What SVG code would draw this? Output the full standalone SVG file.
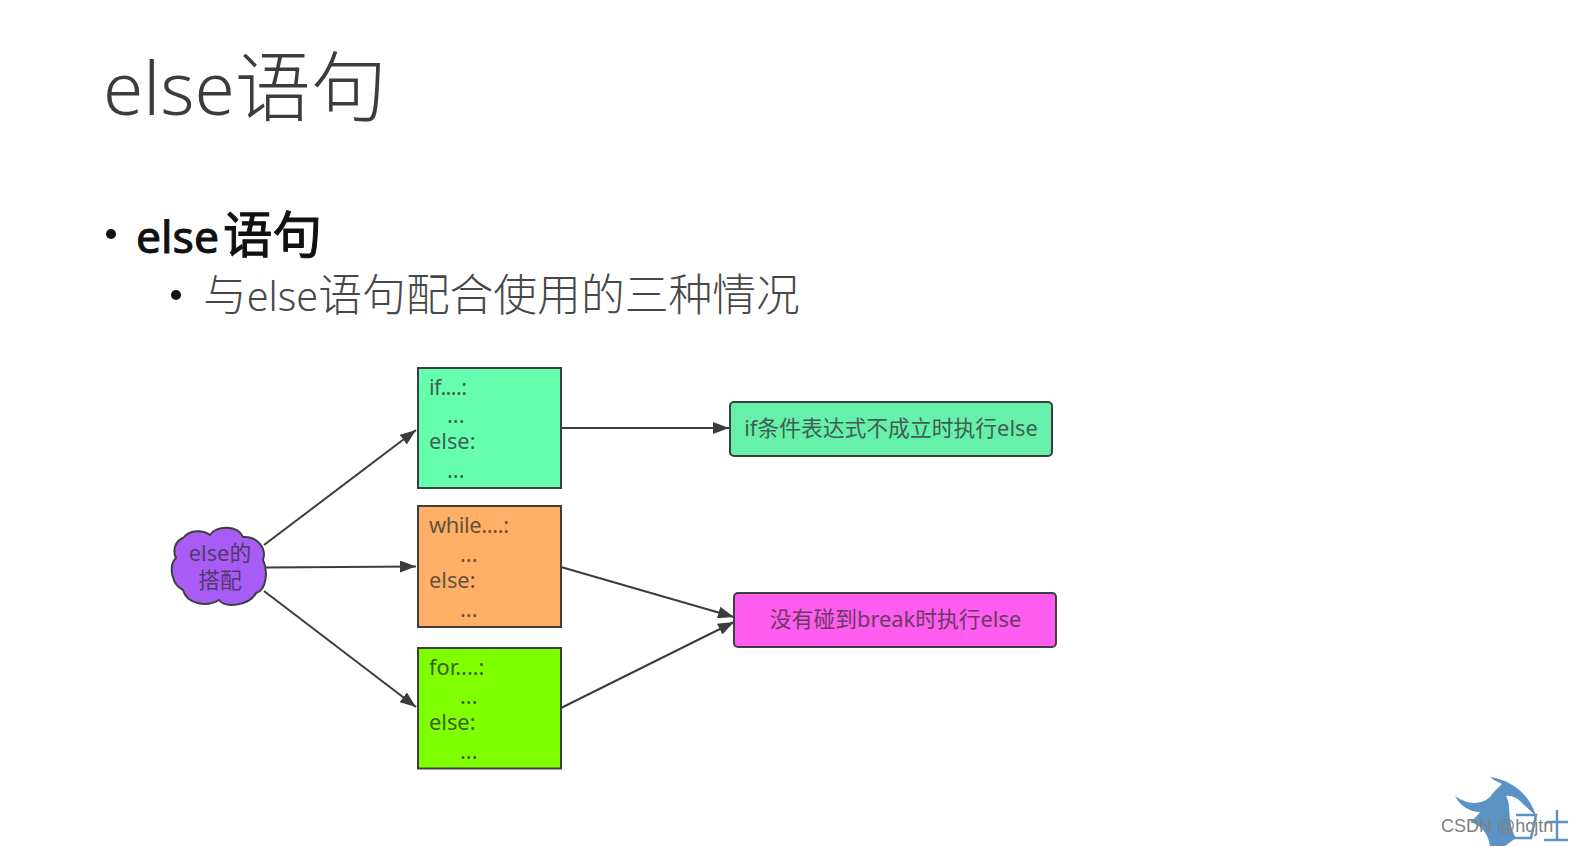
<svg xmlns="http://www.w3.org/2000/svg" width="1570" height="847" viewBox="0 0 1570 847">
<style>
.cjk{font-family:"Noto Sans","Noto Sans CJK SC",sans-serif}
.n{fill:#3f5f50;font-size:21.800px;font-family:"Noto Sans","Noto Sans CJK SC",sans-serif}
.m{fill:#5f5340}
.g{fill:#3f6020}
.p{fill:#4f3a6b}
.q{fill:#6a3a66}
.b{stroke:#3c3f3f;stroke-width:2}
.c{stroke:#3c3c3c;stroke-width:2;fill:none;marker-end:url(#a)}
</style>
<defs><marker id="a" markerUnits="userSpaceOnUse" markerWidth="18" markerHeight="12" refX="16" refY="6" orient="auto"><path d="M0 0L16 6L0 12Z" fill="#3c3c3c"/></marker></defs>
<rect width="1570" height="847" fill="#fff"/>
<text class="cjk" x="103" y="115" font-size="73" fill="#3c3c3c" font-weight="300">else<tspan font-size="76">语句</tspan></text>
<circle cx="111" cy="234" r="5" fill="#111"/>
<text class="cjk" x="136" y="253" font-size="44.500" fill="#111" stroke="#111" stroke-width="1">else<tspan font-size="49.500" dx="4">语句</tspan></text>
<circle cx="176" cy="295" r="5" fill="#111"/>
<text class="cjk" x="203" y="311" font-size="39.500" fill="#484848" font-weight="300"><tspan font-size="43.800">与</tspan>else<tspan font-size="43.800">语句配合使用的三种情况</tspan></text>
<g id="connectors">
<path class="c" d="M264 545L416 430"/>
<path class="c" d="M266 567.500L416 566.500"/>
<path class="c" d="M264 591L416 707"/>
<path class="c" d="M561 428H729"/>
<path class="c" d="M561 567L734 617"/>
<path class="c" d="M561 708L734 622"/>
</g>
<g id="cloud"><path class="b" fill="#a95cf5" stroke-width="2.500" d="M183 538C190 529 204 530 210 535C216 525 238 525 243 537C257 536 267 548 263 560C268 570 267 590 256 593C250 605 226 609 219 600C208 607 187 605 183 590C172 585 168 566 176 558C172 549 176 541 183 538Z"/>
<text class="n p" x="220" y="561" text-anchor="middle">else的</text>
<text class="n p" x="220" y="588" text-anchor="middle">搭配</text></g>
<g id="if"><rect class="b" x="418" y="368" width="143" height="120" fill="#66ffb0"/>
<text class="n" x="429" y="395" textLength="38">if....:</text><text class="n" x="447" y="423">...</text><text class="n" x="429" y="449">else:</text><text class="n" x="447" y="478">...</text></g>
<g id="while"><rect class="b" x="418" y="506" width="143" height="121" fill="#ffb066"/>
<text class="n m" x="429" y="533" textLength="80">while....:</text><text class="n m" x="460" y="562">...</text><text class="n m" x="429" y="588">else:</text><text class="n m" x="460" y="617">...</text></g>
<g id="for"><rect class="b" x="418" y="648" width="143" height="120.500" fill="#80ff00"/>
<text class="n g" x="429" y="675">for....:</text><text class="n g" x="460" y="704">...</text><text class="n g" x="429" y="730">else:</text><text class="n g" x="460" y="759">...</text></g>
<g id="r1"><rect class="b" x="730" y="402" width="322" height="54" rx="4" fill="#66f0aa"/>
<text class="n" x="891" y="436" text-anchor="middle">if条件表达式不成立时执行else</text></g>
<g id="r2"><rect class="b" x="734" y="593" width="322" height="54" rx="4" fill="#ff5cf0"/>
<text class="n q" x="895.500" y="627" text-anchor="middle">没有碰到break时执行else</text></g>
<g id="logo"><path fill="#5b93c4" d="M1455 796C1466 804 1480 806 1490 797C1495 790 1500 786 1502 784C1496 781 1492 779 1490 777C1512 780 1530 795 1536 816L1522 803C1518 798 1511 795 1506 796C1512 805 1506 820 1516 838L1505 846H1490C1488 832 1480 825 1470 822C1475 818 1478 815 1480 812C1470 812 1460 806 1455 796Z"/>
<path d="M1516 815H1536L1531 838H1512M1546 822H1568M1557 810V840M1544 840H1568" fill="none" stroke="#5b93c4" stroke-width="2.500"/></g>
<text x="1441" y="832" font-family="Liberation Sans, sans-serif" font-size="18" fill="#808080">CSDN @hcjtn</text>
</svg>
